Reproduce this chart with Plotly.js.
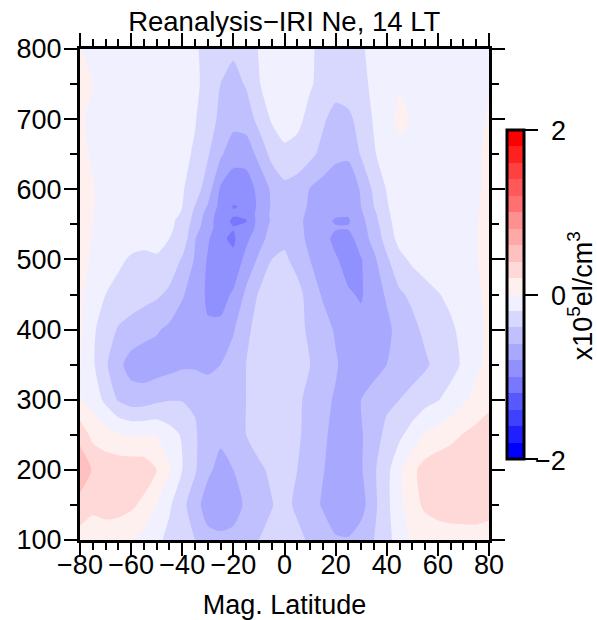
<!DOCTYPE html>
<html><head><meta charset="utf-8">
<script src="https://cdn.plot.ly/plotly-3.0.1.min.js"></script>
<style>html,body{margin:0;padding:0;background:#fff}#c{width:597px;height:620px}</style>
</head><body><div id="c"></div>
<script>
const latitudes=[-80,-75,-70,-65,-60,-55,-50,-45,-40,-35,-30,-25,-20,-15,-10,-5,0,5,10,15,20,25,30,35,40,45,50,55,60,65,70,75,80];
const altitudes=[100,150,200,250,300,350,400,450,500,530,545,555,565,575,600,650,700,750,800];
const r100=[.12,.08,.06,.06,.01,-.06,-.15,-.26,-.33,-.4,-.52,-.55,-.52,-.47,-.4,-.34,-.3,-.33,-.44,-.5,-.57,-.58,-.5,-.4,-.27,-.1,.03,.06,.11,.12,.12,.13,.14];
const r150=[.32,.25,.3,.28,.24,.15,-.01,-.17,-.35,-.5,-.72,-.75,-.72,-.55,-.47,-.41,-.33,-.45,-.52,-.62,-.76,-.79,-.68,-.45,-.25,-.05,.12,.24,.27,.29,.3,.29,.25];
const r200=[.55,.38,.33,.33,.33,.32,.2,.02,-.2,-.38,-.55,-.68,-.6,-.48,-.43,-.37,-.33,-.4,-.46,-.59,-.67,-.68,-.62,-.43,-.26,-.04,.15,.28,.33,.35,.36,.36,.36];
const r250=[.33,.14,.08,.02,-.01,-.01,-.01,-.12,-.22,-.38,-.5,-.55,-.59,-.4,-.33,-.31,-.3,-.37,-.47,-.57,-.65,-.68,-.62,-.48,-.35,-.24,-.12,.02,.08,.14,.21,.27,.33];
const r300=[.01,-.07,-.25,-.42,-.5,-.49,-.44,-.41,-.41,-.42,-.5,-.55,-.52,-.4,-.33,-.31,-.3,-.36,-.46,-.55,-.62,-.67,-.6,-.52,-.44,-.4,-.33,-.27,-.21,-.13,-.03,.05,.13];
const r350=[.01,-.17,-.37,-.55,-.68,-.72,-.7,-.67,-.63,-.63,-.64,-.6,-.5,-.4,-.33,-.31,-.3,-.33,-.4,-.47,-.58,-.68,-.72,-.67,-.6,-.54,-.5,-.43,-.34,-.27,-.17,-.03,.04];
const r400=[.03,-.17,-.29,-.42,-.48,-.53,-.58,-.64,-.7,-.75,-.78,-.75,-.62,-.43,-.35,-.32,-.3,-.35,-.43,-.53,-.62,-.72,-.74,-.72,-.64,-.54,-.45,-.36,-.3,-.23,-.15,-.04,.03];
const r450=[.03,-.08,-.2,-.25,-.29,-.33,-.37,-.44,-.58,-.7,-.83,-.88,-.77,-.56,-.38,-.3,-.26,-.32,-.5,-.62,-.7,-.78,-.82,-.68,-.58,-.43,-.36,-.28,-.21,-.16,-.1,-.03,.04];
const r500=[.05,-.02,-.1,-.17,-.22,-.24,-.215,-.28,-.42,-.62,-.82,-.93,-.96,-.73,-.57,-.4,-.36,-.48,-.6,-.7,-.78,-.87,-.81,-.64,-.43,-.26,-.16,-.1,-.09,-.08,-.07,-.01,.06];
const r530=[.05,-.01,-.08,-.12,-.14,-.15,-.16,-.2,-.27,-.59,-.77,-.97,-1.03,-.85,-.67,-.53,-.45,-.53,-.65,-.73,-.85,-.87,-.7,-.53,-.32,-.13,-.08,-.08,-.08,-.08,-.07,-.01,.06];
const r545=[.06,0,-.07,-.11,-.13,-.14,-.15,-.17,-.26,-.52,-.72,-.9,-.99,-.95,-.72,-.55,-.47,-.55,-.65,-.72,-.785,-.785,-.68,-.5,-.28,-.11,-.08,-.08,-.08,-.08,-.07,-.01,.06];
const r555=[.06,0,-.06,-.11,-.13,-.14,-.15,-.17,-.24,-.48,-.7,-.92,-1.03,-1.01,-.72,-.58,-.48,-.55,-.66,-.74,-.82,-.82,-.66,-.47,-.26,-.1,-.08,-.08,-.08,-.08,-.07,-.01,.06];
const r565=[.06,0,-.06,-.11,-.12,-.13,-.14,-.16,-.21,-.45,-.68,-.9,-.98,-.96,-.72,-.57,-.49,-.53,-.65,-.72,-.77,-.78,-.63,-.44,-.24,-.09,-.08,-.08,-.08,-.08,-.07,-.02,.06];
const r575=[.07,.01,-.05,-.11,-.12,-.13,-.14,-.16,-.2,-.41,-.62,-.87,-1.01,-.98,-.75,-.58,-.5,-.52,-.63,-.7,-.75,-.76,-.6,-.4,-.22,-.09,-.08,-.08,-.08,-.08,-.07,-.02,.06];
const r600=[.07,.01,-.05,-.11,-.12,-.13,-.14,-.15,-.18,-.31,-.5,-.83,-.92,-.93,-.73,-.57,-.46,-.5,-.61,-.68,-.73,-.72,-.58,-.36,-.19,-.08,-.08,-.08,-.08,-.08,-.07,-.03,.05];
const r650=[.05,-.02,-.1,-.11,-.11,-.12,-.12,-.13,-.16,-.22,-.38,-.57,-.72,-.7,-.55,-.34,-.235,-.27,-.35,-.46,-.55,-.57,-.38,-.22,-.1,-.04,-.04,-.08,-.08,-.08,-.08,-.03,.04];
const r700=[.03,-.05,-.1,-.1,-.11,-.11,-.12,-.13,-.15,-.19,-.3,-.45,-.53,-.52,-.33,-.18,-.13,-.15,-.26,-.37,-.48,-.44,-.33,-.18,-.05,.03,-.01,-.07,-.08,-.08,-.08,-.05,.02];
const r750=[.05,0,-.09,-.1,-.1,-.1,-.1,-.11,-.13,-.17,-.25,-.4,-.48,-.38,-.21,-.12,-.1,-.11,-.18,-.26,-.31,-.3,-.26,-.15,-.06,-.01,-.03,-.06,-.07,-.07,-.07,-.06,-.01];
const r800=[.01,-.09,-.1,-.1,-.1,-.11,-.11,-.12,-.13,-.18,-.25,-.32,-.36,-.3,-.19,-.12,-.1,-.11,-.18,-.24,-.28,-.27,-.22,-.15,-.09,-.08,-.08,-.09,-.09,-.09,-.09,-.07,-.03];
const neValues=[r100,r150,r200,r250,r300,r350,r400,r450,r500,r530,r545,r555,r565,r575,r600,r650,r700,r750,r800];

const bandMids=[-1.9,-1.7,-1.5,-1.3,-1.1,-.9,-.7,-.5,-.3,-.1,.1,.3,.5,.7,.9,1.1,1.3,1.5,1.7,1.9];
const bandColors=['#0000ff','#2020ff','#4040ff','#5858ff','#7878ff','#9090ff','#a8a8ff','#c0c0ff','#d8d8ff','#f0f0ff',
 '#fff0f0','#ffd8d8','#ffc0c0','#ffa8a8','#ff9090','#ff7070','#ff5858','#ff4040','#ff2020','#ff0000'];
const colorscale=bandMids.map((m,i)=>[(m+2)/4,bandColors[i]]);
colorscale.unshift([0,bandColors[0]]);colorscale.push([1,bandColors[19]]);

const fontFam='"Liberation Sans",Arial,sans-serif';
const FS=27;
const L=79.5,R=489.5,T=48.5,B=540.5,W=R-L,H=B-T;
const axisCommon={showgrid:false,zeroline:false,showline:true,linecolor:'#000',linewidth:3,mirror:'ticks',
 ticks:'outside',ticklen:13,tickwidth:2,tickcolor:'#000',tickfont:{family:fontFam,size:FS,color:'#000'}};
const trace={type:'contour',x:latitudes,y:altitudes,z:neValues,zmin:-2,zmax:2,colorscale:colorscale,
 autocontour:false,contours:{start:-2,end:2,size:.2,coloring:'fill',showlines:false},line:{width:0,smoothing:.6},
 hoverinfo:'skip',
 colorbar:{thicknessmode:'pixels',thickness:17,lenmode:'fraction',len:330/H,xanchor:'left',x:(508-L)/W,
  yanchor:'middle',y:(B-295)/H,xpad:0,ypad:0,outlinewidth:3,outlinecolor:'#000',borderwidth:0,
  tickmode:'array',tickvals:[-2,0,2],ticks:'outside',ticklen:13,tickwidth:2,tickcolor:'#000',showticklabels:false}};
const noteFont={family:fontFam,size:FS,color:'#000'};
const layout={width:597,height:620,margin:{l:L,r:597-R,t:T,b:620-B,pad:0},paper_bgcolor:'#fff',plot_bgcolor:'#fff',showlegend:false,
 font:{family:fontFam,size:FS,color:'#000'},
 title:{text:'Reanalysis\u2212IRI Ne, 14 LT',font:{family:fontFam,size:FS+.5,color:'#000'},x:.476,xanchor:'center',y:.965,yanchor:'middle'},
 xaxis:Object.assign({},axisCommon,{range:[-80,80],tickmode:'linear',tick0:-80,dtick:20,automargin:false,tickangle:0,ticklabelstandoff:-14,
  minor:{ticks:'outside',ticklen:7,tickwidth:2,tickcolor:'#000',tick0:-80,dtick:5,showgrid:false},
  title:{text:'Mag. Latitude',font:{family:fontFam,size:FS,color:'#000'},standoff:18}}),
 yaxis:Object.assign({},axisCommon,{range:[100,800],tickmode:'linear',tick0:100,dtick:100,automargin:false,ticklabelstandoff:-3,
  minor:{ticks:'outside',ticklen:7,tickwidth:2,tickcolor:'#000',tick0:100,dtick:50,showgrid:false}}),
 annotations:[
  {xref:'paper',yref:'paper',x:(569-L)/W,y:(B-131)/H,text:'2',showarrow:false,xanchor:'right',yanchor:'middle',font:noteFont},
  {xref:'paper',yref:'paper',x:(569-L)/W,y:(B-296)/H,text:'0',showarrow:false,xanchor:'right',yanchor:'middle',font:noteFont},
  {xref:'paper',yref:'paper',x:(569-L)/W,y:(B-461)/H,text:'\u22122',showarrow:false,xanchor:'right',yanchor:'middle',font:noteFont},
  {xref:'paper',yref:'paper',x:(581-L)/W,y:(B-296)/H,text:'x10<sup>5</sup>el/cm<sup>3</sup>',textangle:-90,showarrow:false,xanchor:'center',yanchor:'middle',font:noteFont}
 ]};
Plotly.newPlot('c',[trace],layout,{staticPlot:true,displayModeBar:false});
</script></body></html>
